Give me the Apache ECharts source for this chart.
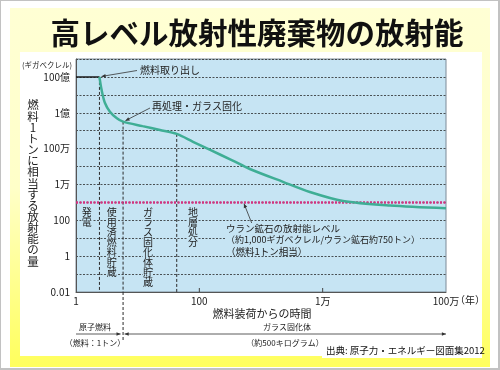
<!DOCTYPE html>
<html><head><meta charset="utf-8">
<script src="https://cdn.jsdelivr.net/npm/echarts@6/dist/echarts.min.js"></script>
<style>
html,body{margin:0;padding:0;background:#fff;}
#wrap{position:relative;width:500px;height:370px;overflow:hidden;}
#frame{position:absolute;left:0;top:0;width:500px;height:370px;box-sizing:border-box;border:solid #c2c2c2;border-width:1px 2px 2px 1px;}
#yellow{position:absolute;left:10px;top:8px;width:480px;height:359px;background:linear-gradient(#ffffd4 0%,#ffffc8 50%,#ffff5c 100%);}
#panel{position:absolute;left:20px;top:52px;width:462px;height:304px;background:#fff;}
#src{position:absolute;left:322px;top:342px;width:160px;height:16px;background:#fff;}
#chart{position:absolute;left:0;top:0;width:500px;height:370px;}
</style></head><body>
<div id="wrap"><div id="frame"></div><div id="yellow"></div><div id="panel"></div><div id="src"></div><div id="chart"></div></div>
<script>
const FONT = '"Noto Sans CJK JP","Noto Sans",sans-serif';

// ---- data (years since fuel loading, GBq per tonne of fuel) ----
const flatYears = [1, 2.4];
const flatGBq = [1e10, 1e10];
const curveYears = [2.4, 2.6, 2.95, 3.55, 4.6, 5.8, 12, 23, 43, 79, 150, 335, 660, 2270, 6200, 21400, 124000, 1000000];
const curveGBq = [1e10, 1.9e9, 3.5e8, 1.15e8, 4.9e7, 3.2e7, 1.8e7, 1.1e7, 6.6e6, 2.4e6, 8.4e5, 2.3e5, 7.3e4, 1.4e4, 3.8e3, 1.2e3, 6.7e2, 4.7e2];
const uraniumYears = [1, 1000000];
const uraniumGBq = [1000, 1000];
const stageYears = [2.4, 5.8, 43];
const stageTopGBq = [1e10, 3.2e7, 6.6e6];
const yTickLabels = {10: '100億', 8: '1億', 6: '100万', 4: '1万', 2: '100', 0: '1', '-2': '0.01'};
const xTickLabels = {0: '1', 2: '100', 4: '1万', 6: '100万'};
const stageNames = ['発電', '使用済燃料貯蔵', 'ガラス固化体貯蔵', '地層処分'];

const zip = (a, b) => a.map((v, i) => [v, b[i]]);
const PLOT_BG = '#c6e4f3';

const series = [
  {type: 'line', data: zip(uraniumYears, uraniumGBq), symbol: 'none', z: 3,
   lineStyle: {color: '#d4317f', width: 2.5, type: [2, 1.5]}},
  {type: 'line', data: zip(flatYears, flatGBq), symbol: 'none', z: 4,
   lineStyle: {color: '#1a1a1a', width: 1.5}},
  {type: 'line', data: zip(curveYears, curveGBq), symbol: 'none', smooth: 0.3, z: 5,
   lineStyle: {color: '#3fae95', width: 2.5}}
];
stageYears.forEach((y, i) => {
  series.push({type: 'line', data: [[y, stageTopGBq[i]], [y, 0.01]], symbol: 'none', z: 2,
    lineStyle: {color: '#2a2a2a', width: 1, type: [3, 2]}});
});

const option = {
  animation: false,
  backgroundColor: 'transparent',
  textStyle: {fontFamily: FONT},
  grid: {left: 76, right: 54, top: 59, bottom: 78, show: true, backgroundColor: PLOT_BG,
         borderColor: '#7d8a97', borderWidth: 1},
  xAxis: {type: 'log', logBase: 10, min: 1, max: 1e6, interval: 1,
    axisLine: {show: true, lineStyle: {color: '#555', width: 1}},
    axisTick: {show: false}, splitLine: {show: false},
    axisLabel: {fontFamily: FONT, fontSize: 10, color: '#222', margin: 4,
      showMinLabel: true, showMaxLabel: true,
      formatter: v => xTickLabels[Math.round(Math.log10(v))] || ''}},
  yAxis: {type: 'log', logBase: 10, min: 0.01, max: 1e11, interval: 1,
    axisLine: {show: true, lineStyle: {color: '#555', width: 1}},
    axisTick: {show: false},
    splitLine: {show: true, lineStyle: {color: '#2a2a2a', width: 0.8, type: [2, 1.5]}},
    axisLabel: {fontFamily: FONT, fontSize: 10, color: '#222', margin: 6,
      showMinLabel: true, showMaxLabel: true,
      formatter: v => yTickLabels[Math.round(Math.log10(v))] || ''}},
  series: series
};

const chart = echarts.init(document.getElementById('chart'), null, {renderer: 'canvas'});
chart.setOption(option);
const px = (x, y) => chart.convertToPixel({gridIndex: 0}, [x, y]);

const G = [];
function txt(s, x, y, size, opts) {
  opts = opts || {};
  G.push({type: 'text', x: x, y: y, z: 100, style: Object.assign({
    text: s, font: (opts.weight || 'normal') + ' ' + size + 'px ' + FONT,
    fill: opts.fill || '#222', textAlign: opts.align || 'left', textVerticalAlign: opts.valign || 'middle'
  }, opts.style || {})});
}
function arrowHead(x1, y1, x2, y2, len, color) {
  const a = Math.atan2(y2 - y1, x2 - x1), w = 0.42;
  G.push({type: 'polygon', z: 101, shape: {points: [[x2, y2],
    [x2 - len * Math.cos(a - w), y2 - len * Math.sin(a - w)],
    [x2 - len * Math.cos(a + w), y2 - len * Math.sin(a + w)]]}, style: {fill: color}});
}
function arrow(x1, y1, x2, y2, color, both) {
  color = color || '#333';
  G.push({type: 'line', z: 101, shape: {x1: x1, y1: y1, x2: x2, y2: y2}, style: {stroke: color, lineWidth: 0.8}});
  arrowHead(x1, y1, x2, y2, 4.5, color);
  if (both) arrowHead(x2, y2, x1, y1, 4.5, color);
}

// title
txt('高レベル放射性廃棄物の放射能', 257, 33, 29.5, {weight: 'bold', align: 'center', fill: '#111'});
// y unit and name
txt('(ギガベクレル)', 72, 65, 7.5, {align: 'right'});
txt('燃料1トンに相当する放射能の量'.split('').join('\n'), 33, 99.5, 11.5,
    {align: 'center', valign: 'top', style: {lineHeight: 11.15}});
// x axis extras
const bottomY = px(1, 0.01)[1];
txt('（年）', px(1e6, 1)[0] + 9, bottomY + 8.5, 10);
txt('燃料装荷からの時間', 262, 314, 11, {align: 'center'});
[100, 10000].forEach(t => {
  const p = px(t, 0.01);
  G.push({type: 'line', z: 100, shape: {x1: p[0], y1: p[1], x2: p[0], y2: p[1] - 4}, style: {stroke: '#444', lineWidth: 1}});
});

// annotations on the curve
const pOut = px(2.5, 1e10);
txt('燃料取り出し', 140, 70, 10);
arrow(137, 70.5, pOut[0] + 1, pOut[1] - 0.5);
const pRep = px(6.1, 3.2e7);
txt('再処理・ガラス固化', 152, 106, 10);
arrow(150, 108, pRep[0] + 1, pRep[1] - 1);

// stage labels (vertical)
const stageX = [86.7, 111.7, 148, 193];
stageNames.forEach((s, i) => {
  txt(s.split('').join('\n'), stageX[i], 207, 10, {align: 'center', valign: 'top',
    style: {lineHeight: 10, backgroundColor: PLOT_BG}});
});

// uranium ore level
txt('ウラン鉱石の放射能レベル', 226, 228, 9.5);
txt('（約1,000ギガベクレル/ウラン鉱石約750トン）', 226, 240, 9, {style: {backgroundColor: PLOT_BG}});
txt('（燃料1トン相当）', 226, 251, 9.5);
const pU = px(530, 850);
arrow(251.7, 223, pU[0], pU[1]);

// bottom: fuel form
const xL = px(1, 1)[0], xS = px(stageYears[1], 1)[0], xR = px(1e6, 1)[0];
txt('原子燃料', 95, 327, 8, {align: 'center'});
txt('（燃料：1トン）', 95, 343, 8, {align: 'center'});
txt('ガラス固化体', 287, 327, 8, {align: 'center'});
txt('（約500キログラム）', 285, 343, 8, {align: 'center'});
arrow(xL, 334, xS - 2.5, 334);
arrow(xS + 1.5, 334, xR, 334, '#333', true);
G.push({type: 'line', z: 100, shape: {x1: xS, y1: bottomY, x2: xS, y2: 342},
  style: {stroke: '#2a2a2a', lineWidth: 1, lineDash: [3, 2]}});

// source
txt('出典: 原子力・エネルギー図面集2012', 326, 350, 9.5, {fill: '#111'});

chart.setOption({graphic: {elements: G}});
</script>
</body></html>
